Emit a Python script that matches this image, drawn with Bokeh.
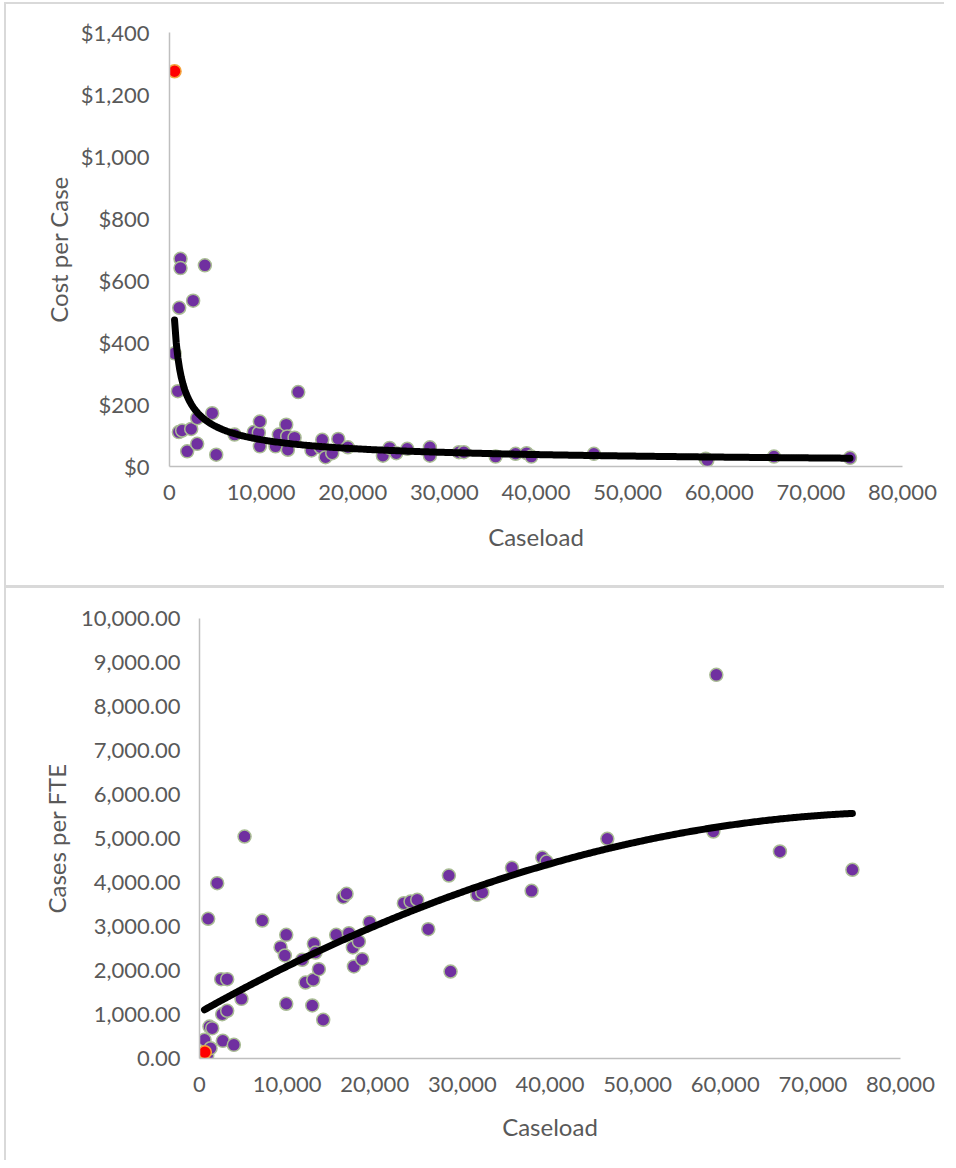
import numpy as np
from bokeh.plotting import figure
from bokeh.models import FixedTicker, NumeralTickFormatter, Range1d
from bokeh.embed import file_html
from bokeh.resources import INLINE

# ---------------- data ----------------
X_TICKS = [0, 10000, 20000, 30000, 40000, 50000, 60000, 70000, 80000]
COST_TICKS = [0, 200, 400, 600, 800, 1000, 1200, 1400]
FTE_TICKS = [0, 1000, 2000, 3000, 4000, 5000, 6000, 7000, 8000, 9000, 10000]

# Chart 1: Cost per Case vs Caseload
caseload_cost = [550, 910, 1020, 1060, 1200, 1200, 1380, 1930, 2370, 2580, 3020, 3020,
                 3860, 4660, 5100, 7100, 9200, 9750, 9860, 9860, 11570, 11930, 12740,
                 12850, 12920, 13650, 14050, 15500, 16480, 16670, 17030, 17760, 18420,
                 19470, 23290, 24020, 24750, 25950, 28420, 28420, 31580, 32130, 35590,
                 37770, 38970, 39490, 46320, 58520, 58700, 65970, 74270]
cost_per_case = [365, 243, 111, 512, 670, 640, 116, 49, 121, 535, 156, 73,
                 649, 172, 38, 103, 111, 109, 145, 65, 65, 103, 135,
                 97, 54, 93, 240, 52, 62, 86, 30, 43, 89,
                 62, 35, 60, 43, 57, 62, 35, 46, 46, 32,
                 41, 43, 32, 41, 25, 20, 32, 28]
highlight_caseload_cost = [550]
highlight_cost = [1275]

# Chart 2: Cases per FTE vs Caseload
caseload_fte = [570, 880, 990, 1140, 1260, 1450, 2020, 2470, 2590, 2660, 3160, 3160,
                3920, 4790, 5140, 7160, 9250, 9740, 9900, 9900, 11720, 12100, 12870,
                12980, 13050, 13240, 13620, 14120, 15600, 16400, 16780, 17050, 17500,
                17620, 18190, 18570, 19410, 23320, 24090, 24850, 26110, 28460, 28650,
                31700, 32270, 35660, 37900, 39120, 39610, 46540, 58640, 58980, 66240,
                74510]
cases_per_fte = [425, 68, 3175, 727, 234, 690, 3985, 1803, 1007, 402, 1803, 1084,
                 311, 1356, 5045, 3136, 2530, 2341, 2811, 1243, 2243, 1727, 1205,
                 1789, 2607, 2409, 2030, 880, 2811, 3666, 3743, 2848, 2523,
                 2091, 2659, 2257, 3098, 3530, 3568, 3607, 2939, 4159, 1977,
                 3720, 3773, 4333, 3811, 4568, 4477, 4993, 5159, 8720, 4705,
                 4289]
highlight_caseload_fte = [610]
highlight_fte = [143]

PURPLE = "#7030A0"
OUTLINE = "#A9BC94"
RED = "#FF0000"
ORANGE = "#F4A33C"
TEXT = "#595959"
AXIS = "#BFBFBF"
FONT = "Lato"


def style(p, yfmt, yticks, ylabel, y_standoff, ytitle_standoff, xtitle_standoff):
    p.xgrid.visible = False
    p.ygrid.visible = False
    p.outline_line_color = None
    p.background_fill_color = "white"
    p.border_fill_color = "white"
    p.xaxis.ticker = FixedTicker(ticks=X_TICKS)
    p.xaxis.formatter = NumeralTickFormatter(format="0,0")
    p.yaxis.ticker = FixedTicker(ticks=yticks)
    p.yaxis.formatter = NumeralTickFormatter(format=yfmt)
    for ax in (p.xaxis[0], p.yaxis[0]):
        ax.axis_line_color = AXIS
        ax.axis_line_width = 1.5
        ax.major_tick_line_color = None
        ax.minor_tick_line_color = None
        ax.major_tick_out = 0
        ax.major_tick_in = 0
        ax.major_label_text_font = FONT
        ax.major_label_text_font_size = "22px"
        ax.major_label_text_color = TEXT
        ax.axis_label_text_font = FONT
        ax.axis_label_text_font_size = "24px"
        ax.axis_label_text_color = TEXT
        ax.axis_label_text_font_style = "normal"
    p.xaxis.axis_label = "Caseload"
    p.xaxis.major_label_standoff = 18
    p.xaxis.axis_label_standoff = xtitle_standoff
    p.yaxis.axis_label = ylabel
    p.yaxis.major_label_standoff = y_standoff
    p.yaxis.axis_label_standoff = ytitle_standoff


# ---------------- chart 1 ----------------
p1 = figure(width=940, height=583, x_range=Range1d(0, 80000), y_range=Range1d(0, 1400),
            output_backend="svg", toolbar_location=None,
            min_border_left=163, min_border_right=44, min_border_top=28, min_border_bottom=121)
style(p1, "$0,0", COST_TICKS, "Cost per Case", 20, 5, 19)
p1.styles = {"margin-left": "4px", "border-left": "2px solid #D9D9D9",
             "margin-top": "2px", "border-top": "2px solid #D9D9D9"}

p1.scatter(caseload_cost, cost_per_case, size=13, fill_color=PURPLE,
           line_color=OUTLINE, line_width=1.5)
p1.scatter(highlight_caseload_cost, highlight_cost, size=13, fill_color=RED,
           line_color=ORANGE, line_width=1.5)

# power trendline (least squares on log-log, like Excel)
all_x1 = np.array(caseload_cost + highlight_caseload_cost, dtype=float)
all_y1 = np.array(cost_per_case + highlight_cost, dtype=float)
b1, ln_a1 = np.polyfit(np.log(all_x1), np.log(all_y1), 1)
tx1 = np.linspace(all_x1.min(), all_x1.max(), 400)
p1.line(tx1, np.exp(ln_a1) * tx1 ** b1, line_color="black", line_width=7, line_cap="round")

# ---------------- chart 2 ----------------
p2 = figure(width=940, height=575, x_range=Range1d(0, 80000), y_range=Range1d(0, 10000),
            output_backend="svg", toolbar_location=None,
            min_border_left=193, min_border_right=46, min_border_top=30, min_border_bottom=105)
style(p2, "0,0.00", FTE_TICKS, "Cases per FTE", 19, 7, 17)
p2.styles = {"margin-left": "4px", "border-left": "2px solid #D9D9D9",
             "border-top": "3px solid #D9D9D9"}

p2.scatter(caseload_fte, cases_per_fte, size=13, fill_color=PURPLE,
           line_color=OUTLINE, line_width=1.5)
p2.scatter(highlight_caseload_fte, highlight_fte, size=13, fill_color=RED,
           line_color=ORANGE, line_width=1.5)

all_x2 = np.array(caseload_fte + highlight_caseload_fte, dtype=float)
all_y2 = np.array(cases_per_fte + highlight_fte, dtype=float)
c2 = np.polyfit(all_x2, all_y2, 2)
tx2 = np.linspace(all_x2.min(), all_x2.max(), 400)
p2.line(tx2, np.polyval(c2, tx2), line_color="black", line_width=7, line_cap="round")

open("out.html", "w").write(file_html([p1, p2], INLINE))
